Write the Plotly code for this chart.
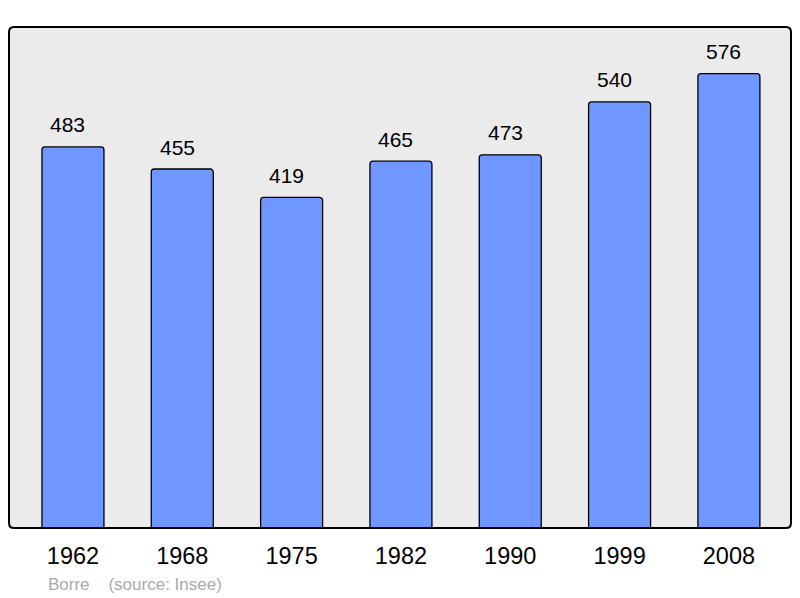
import plotly.graph_objects as go

years = ["1962", "1968", "1975", "1982", "1990", "1999", "2008"]
population = [483, 455, 419, 465, 473, 540, 576]

# the page body adds an 8px offset; compensate so the plot lands where intended
OFF = 8
W, H = 800 - OFF, 598 - OFF
ML, MT = 9 - OFF, 27 - OFF
PR, PB = 791 - OFF, 528 - OFF  # right / bottom edge of plot area in figure px
MR, MB = W - PR, H - PB
pw, ph = PR - ML, PB - MT

FONT = "Liberation Sans, Arial, sans-serif"
xs = list(range(len(years)))

fig = go.Figure()
fig.add_trace(go.Bar(
    x=xs, y=population, width=0.567,
    marker=dict(color="#7097ff", line=dict(color="#000000", width=1.3),
                cornerradius=3),
    hoverinfo="skip",
))

for xi, v in zip(xs, population):
    fig.add_annotation(x=xi, y=v, text=str(v), showarrow=False,
                       yanchor="bottom", yshift=8.5, xshift=-5,
                       font=dict(family=FONT, size=21, color="#000"))

# rounded border
r = 5
rx, ry = r / pw, r / ph
path = (f"M {rx},0 L {1-rx},0 Q 1,0 1,{ry} L 1,{1-ry} Q 1,1 {1-rx},1 "
        f"L {rx},1 Q 0,1 0,{1-ry} L 0,{ry} Q 0,0 {rx},0 Z")
fig.add_shape(type="path", path=path, xref="paper", yref="paper",
              line=dict(color="#000", width=2), layer="above")

# footer (page px ~49, 584)
fx = (46 - OFF - ML) / pw
fy = (PB - (584 - OFF)) / ph
fig.add_annotation(x=fx, y=fy, xref="paper", yref="paper",
                   xanchor="left", yanchor="middle", showarrow=False,
                   text="Borre\u00a0\u00a0\u00a0\u00a0(source: Insee)",
                   font=dict(family=FONT, size=17, color="#aaaaaa"))

fig.update_layout(
    width=W, height=H,
    margin=dict(l=ML, r=MR, t=MT, b=MB),
    paper_bgcolor="#ffffff", plot_bgcolor="#ebebeb",
    showlegend=False,
    xaxis=dict(range=[-0.585, 6.568], tickvals=xs, ticktext=years,
               showgrid=False, zeroline=False, ticks="", showline=False,
               tickfont=dict(family=FONT, size=23.5, color="#000"),
               ticklabelstandoff=11),
    yaxis=dict(range=[0, 635], showgrid=False, zeroline=False,
               showticklabels=False, ticks="", showline=False),
)

fig.write_html("out.html")
